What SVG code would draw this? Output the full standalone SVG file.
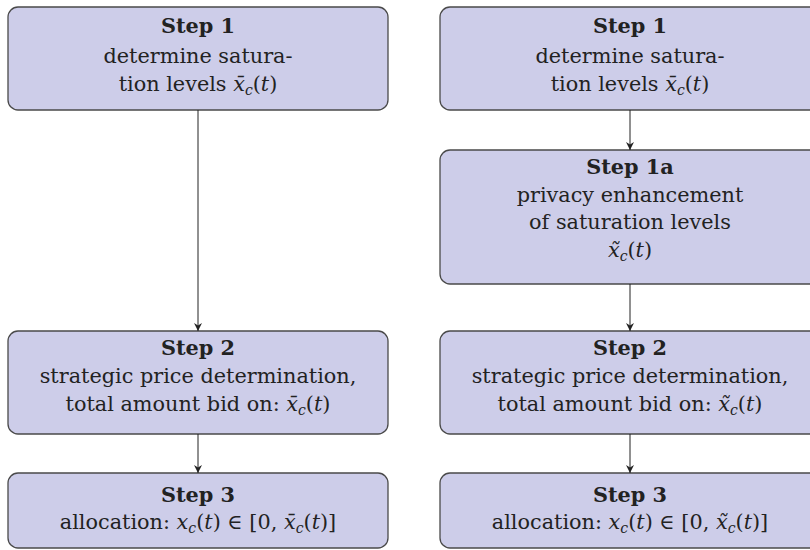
<svg xmlns="http://www.w3.org/2000/svg" width="810" height="550" viewBox="0 0 810 550">
<defs>
<marker id="ah" viewBox="0 0 10 10" refX="10" refY="5" markerWidth="8" markerHeight="8" markerUnits="userSpaceOnUse" orient="auto">
<path d="M0,0 L10,5 L0,10 L3,5 Z" fill="#222"/>
</marker>
</defs>
<style>
.box{fill:#cdcde9;stroke:#4a4a4a;stroke-width:1.3}
text{font-family:"DejaVu Serif","Liberation Serif",serif;font-size:20.8px;fill:#222;text-anchor:middle}
.t{font-weight:bold}
.m{font-style:italic}
.s{font-size:14px;font-style:italic}
.conn line{stroke:#222;stroke-width:1;marker-end:url(#ah)}
</style>
<rect width="810" height="550" fill="#fff"/>

<g id="L1">
<rect class="box" x="8" y="7" width="380" height="103" rx="10"/>
<text x="198" y="33" class="t">Step 1</text>
<text x="198" y="63">determine satura-</text>
<text x="198" y="91">tion levels <tspan class="m">x̄</tspan><tspan class="s" dy="4">c</tspan><tspan dy="-4">(</tspan><tspan class="m">t</tspan>)</text>
</g>
<g id="L2">
<rect class="box" x="8" y="331" width="380" height="103" rx="10"/>
<text x="198" y="355" class="t">Step 2</text>
<text x="198" y="383">strategic price determination,</text>
<text x="198" y="411">total amount bid on: <tspan class="m">x̄</tspan><tspan class="s" dy="4">c</tspan><tspan dy="-4">(</tspan><tspan class="m">t</tspan>)</text>
</g>
<g id="L3">
<rect class="box" x="8" y="473" width="380" height="75" rx="10"/>
<text x="198" y="502" class="t">Step 3</text>
<text x="198" y="529">allocation: <tspan class="m">x</tspan><tspan class="s" dy="4">c</tspan><tspan dy="-4">(</tspan><tspan class="m">t</tspan>) ∈ [0, <tspan class="m">x̄</tspan><tspan class="s" dy="4">c</tspan><tspan dy="-4">(</tspan><tspan class="m">t</tspan>)]</text>
</g>

<g id="R1">
<rect class="box" x="440" y="7" width="380" height="103" rx="10"/>
<text x="630" y="33" class="t">Step 1</text>
<text x="630" y="63">determine satura-</text>
<text x="630" y="91">tion levels <tspan class="m">x̄</tspan><tspan class="s" dy="4">c</tspan><tspan dy="-4">(</tspan><tspan class="m">t</tspan>)</text>
</g>
<g id="R1a">
<rect class="box" x="440" y="150" width="380" height="134" rx="10"/>
<text x="630" y="174" class="t">Step 1a</text>
<text x="630" y="202">privacy enhancement</text>
<text x="630" y="229">of saturation levels</text>
<text x="630" y="257"><tspan class="m">x̃</tspan><tspan class="s" dy="4">c</tspan><tspan dy="-4">(</tspan><tspan class="m">t</tspan>)</text>
</g>
<g id="R2">
<rect class="box" x="440" y="331" width="380" height="103" rx="10"/>
<text x="630" y="355" class="t">Step 2</text>
<text x="630" y="383">strategic price determination,</text>
<text x="630" y="411">total amount bid on: <tspan class="m">x̃</tspan><tspan class="s" dy="4">c</tspan><tspan dy="-4">(</tspan><tspan class="m">t</tspan>)</text>
</g>
<g id="R3">
<rect class="box" x="440" y="473" width="380" height="75" rx="10"/>
<text x="630" y="502" class="t">Step 3</text>
<text x="630" y="529">allocation: <tspan class="m">x</tspan><tspan class="s" dy="4">c</tspan><tspan dy="-4">(</tspan><tspan class="m">t</tspan>) ∈ [0, <tspan class="m">x̃</tspan><tspan class="s" dy="4">c</tspan><tspan dy="-4">(</tspan><tspan class="m">t</tspan>)]</text>
</g>

<g id="connectors" class="conn">
<line x1="198" y1="110" x2="198" y2="331"/>
<line x1="198" y1="434" x2="198" y2="473"/>
<line x1="630" y1="110" x2="630" y2="150"/>
<line x1="630" y1="284" x2="630" y2="331"/>
<line x1="630" y1="434" x2="630" y2="473"/>
</g>
</svg>
